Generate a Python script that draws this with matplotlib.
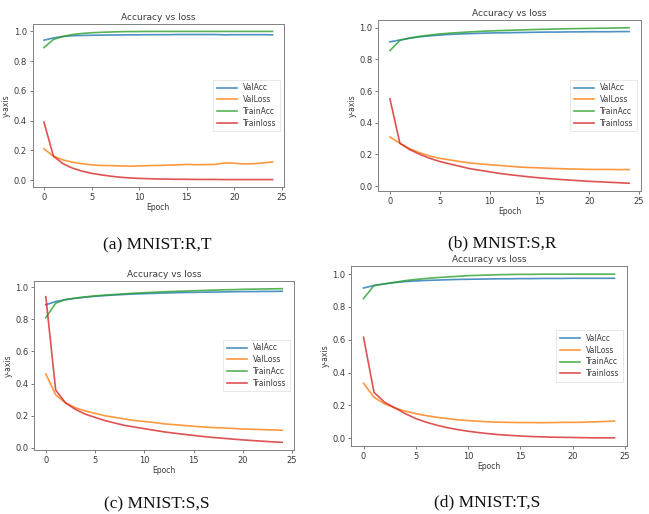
import matplotlib
matplotlib.use("Agg")
import matplotlib.pyplot as plt
import numpy as np

epochs = list(range(25))

# Panel (a) MNIST:R,T
a_valacc = [0.94, 0.955, 0.965, 0.97, 0.972, 0.973, 0.974, 0.975, 0.975, 0.976, 0.976, 0.977, 0.977, 0.977, 0.978, 0.978, 0.978, 0.978, 0.978, 0.976, 0.977, 0.977, 0.977, 0.977, 0.976]
a_valloss = [0.21, 0.16, 0.135, 0.12, 0.11, 0.102, 0.098, 0.097, 0.095, 0.093, 0.095, 0.097, 0.098, 0.1, 0.102, 0.105, 0.103, 0.104, 0.105, 0.115, 0.113, 0.108, 0.11, 0.115, 0.122]
a_trainacc = [0.89, 0.945, 0.965, 0.978, 0.985, 0.99, 0.993, 0.995, 0.997, 0.998, 0.998, 0.999, 0.999, 0.999, 0.999, 0.999, 0.999, 0.999, 0.999, 0.999, 0.999, 0.999, 0.999, 0.999, 0.999]
a_trainloss = [0.39, 0.16, 0.11, 0.08, 0.06, 0.045, 0.035, 0.026, 0.019, 0.014, 0.011, 0.009, 0.007, 0.006, 0.005, 0.005, 0.004, 0.004, 0.004, 0.003, 0.003, 0.003, 0.003, 0.003, 0.003]

# Panel (b) MNIST:S,R
b_valacc = [0.91, 0.922, 0.933, 0.942, 0.948, 0.953, 0.957, 0.96, 0.962, 0.964, 0.966, 0.967, 0.968, 0.969, 0.97, 0.971, 0.972, 0.972, 0.973, 0.973, 0.974, 0.974, 0.974, 0.975, 0.975]
b_valloss = [0.31, 0.27, 0.235, 0.21, 0.19, 0.175, 0.165, 0.155, 0.146, 0.14, 0.135, 0.13, 0.125, 0.12, 0.117, 0.115, 0.112, 0.11, 0.108, 0.107, 0.105, 0.105, 0.105, 0.104, 0.104]
b_trainacc = [0.855, 0.92, 0.935, 0.945, 0.953, 0.96, 0.965, 0.969, 0.973, 0.976, 0.979, 0.981, 0.983, 0.985, 0.987, 0.989, 0.99, 0.992, 0.993, 0.994, 0.995, 0.996, 0.997, 0.998, 0.999]
b_trainloss = [0.55, 0.27, 0.23, 0.2, 0.175, 0.155, 0.14, 0.125, 0.11, 0.1, 0.09, 0.08, 0.072, 0.065, 0.058, 0.052, 0.047, 0.042, 0.038, 0.034, 0.03, 0.027, 0.024, 0.021, 0.018]

# Panel (c) MNIST:S,S
c_valacc = [0.89, 0.91, 0.922, 0.93, 0.937, 0.943, 0.947, 0.951, 0.954, 0.957, 0.959, 0.961, 0.963, 0.965, 0.966, 0.967, 0.968, 0.969, 0.97, 0.971, 0.972, 0.972, 0.973, 0.973, 0.974]
c_valloss = [0.46, 0.33, 0.28, 0.25, 0.23, 0.215, 0.2, 0.19, 0.18, 0.17, 0.165, 0.158, 0.15, 0.145, 0.14, 0.135, 0.13, 0.127, 0.124, 0.121, 0.118, 0.116, 0.114, 0.112, 0.11]
c_trainacc = [0.81, 0.9, 0.922, 0.932, 0.939, 0.945, 0.95, 0.954, 0.958, 0.962, 0.965, 0.968, 0.971, 0.973, 0.975, 0.977, 0.979, 0.981, 0.983, 0.984, 0.986, 0.987, 0.988, 0.989, 0.99]
c_trainloss = [0.94, 0.36, 0.28, 0.24, 0.21, 0.19, 0.17, 0.155, 0.14, 0.13, 0.12, 0.11, 0.1, 0.092, 0.085, 0.078, 0.071, 0.065, 0.06, 0.055, 0.05, 0.046, 0.042, 0.038, 0.035]

# Panel (d) MNIST:T,S
d_valacc = [0.915, 0.93, 0.94, 0.948, 0.954, 0.958, 0.961, 0.963, 0.965, 0.967, 0.968, 0.969, 0.97, 0.971, 0.971, 0.972, 0.972, 0.973, 0.973, 0.973, 0.974, 0.974, 0.974, 0.974, 0.974]
d_valloss = [0.335, 0.25, 0.21, 0.185, 0.165, 0.15, 0.138, 0.128, 0.12, 0.113, 0.108, 0.104, 0.1, 0.098, 0.097, 0.096, 0.096, 0.095, 0.096, 0.097, 0.097, 0.098, 0.1, 0.102, 0.105]
d_trainacc = [0.85, 0.93, 0.94, 0.95, 0.96, 0.967, 0.973, 0.978, 0.982, 0.986, 0.99, 0.992, 0.994, 0.996, 0.997, 0.998, 0.998, 0.999, 0.999, 0.999, 0.999, 0.999, 0.999, 0.999, 0.999]
d_trainloss = [0.615, 0.28, 0.22, 0.185, 0.15, 0.12, 0.098, 0.08, 0.065, 0.053, 0.043, 0.035, 0.028, 0.022, 0.018, 0.014, 0.011, 0.009, 0.007, 0.006, 0.005, 0.004, 0.003, 0.003, 0.003]

captions = ["(a) MNIST:R,T", "(b) MNIST:S,R", "(c) MNIST:S,S", "(d) MNIST:T,S"]
series_labels = ["ValAcc", "ValLoss", "TrainAcc", "Trainloss"]
colors = ["#1f77b4", "#ff7f0e", "#2ca02c", "#d62728"]
x_ticks = [0, 5, 10, 15, 20, 25]
y_ticks = [0.0, 0.2, 0.4, 0.6, 0.8, 1.0]

panels = [
    (a_valacc, a_valloss, a_trainacc, a_trainloss),
    (b_valacc, b_valloss, b_trainacc, b_trainloss),
    (c_valacc, c_valloss, c_trainacc, c_trainloss),
    (d_valacc, d_valloss, d_trainacc, d_trainloss),
]

W, H = 649, 514
fig = plt.figure(figsize=(W / 100, H / 100), dpi=100)

# axes boxes in pixels: left, right, top, bottom
boxes = [(32.5, 284, 24, 187), (378, 641, 20, 191), (34, 294, 281, 450), (351, 627, 266, 446)]
cap_pos = [(157, 245), (502, 243), (157, 504), (487, 502)]

tc = "#3a3a3a"
for (l, r, t, b), data, cap, (cx, cy) in zip(boxes, panels, captions, cap_pos):
    ax = fig.add_axes([l / W, 1 - b / H, (r - l) / W, (b - t) / H])
    for s, lab, c in zip(data, series_labels, colors):
        ax.plot(epochs, s, color=c, lw=1.2, label=lab, alpha=0.8)
    ax.set_xticks(x_ticks)
    ax.set_yticks(y_ticks)
    ax.set_xticklabels([str(v) for v in x_ticks])
    ax.set_yticklabels([f"{v:.1f}" for v in y_ticks])
    ax.tick_params(labelsize=6, length=2.5, width=0.6, pad=1.5, colors="#666666", labelcolor=tc)
    for sp in ax.spines.values():
        sp.set_color("#808080")
        sp.set_linewidth(0.7)
    ax.set_title("Accuracy vs loss", fontsize=6.5, color=tc, pad=3)
    ax.set_xlabel("Epoch", fontsize=5.5, color=tc, labelpad=1)
    ax.set_ylabel("y-axis", fontsize=5.5, color=tc, labelpad=2)
    leg = ax.legend(loc="center right", fontsize=5.5, frameon=True, fancybox=False,
                    handlelength=2.6, borderpad=0.5, labelspacing=0.35)
    leg.get_frame().set_linewidth(0.4)
    leg.get_frame().set_edgecolor("#cccccc")
    for txt in leg.get_texts():
        txt.set_color(tc)
    fig.text(cx / W, 1 - cy / H, cap, ha="center", va="center",
             fontsize=12.5, family="Liberation Serif", color="#111111")

fig.savefig("out.png", dpi=100)
